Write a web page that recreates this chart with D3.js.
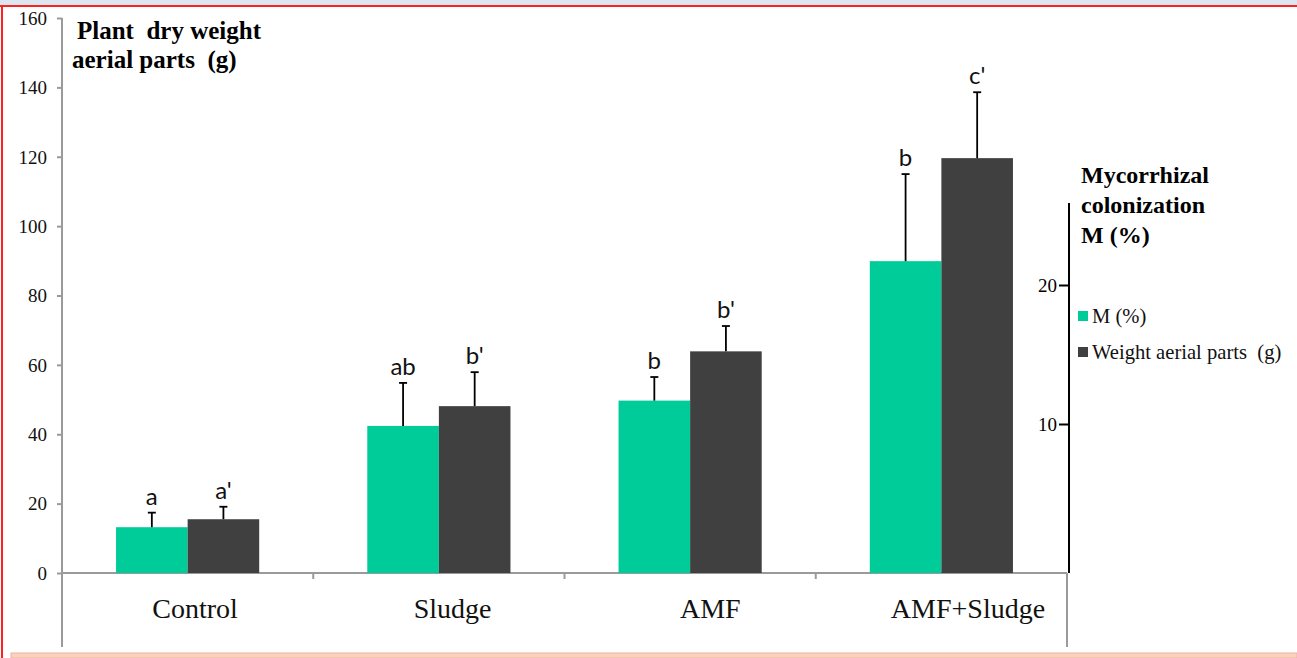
<!DOCTYPE html>
<html>
<head>
<meta charset="utf-8">
<script src="https://cdn.jsdelivr.net/npm/d3@7"></script>
<style>
  html, body { margin: 0; padding: 0; background: #fff; }
  svg { display: block; }
  text { white-space: pre; }
</style>
</head>
<body>
<svg id="chart" width="1297" height="658"></svg>
<script>
// ---- data ----
const categories = ["Control", "Sludge", "AMF", "AMF+Sludge"];
const seriesNames = ["M (%)", "Weight aerial parts  (g)"];
const mValues = [13.2, 42.4, 49.7, 89.9];
const mErrors = [4.2, 12.4, 6.8, 25.1];
const weightValues = [15.5, 48.1, 63.9, 119.6];
const weightErrors = [3.6, 9.8, 7.3, 19.0];
const mLetters = ["a", "ab", "b", "b"];
const weightLetters = ["a'", "b'", "b'", "c'"];
const leftTicks = [0, 20, 40, 60, 80, 100, 120, 140, 160];
const rightTicks = [10, 20];
const seriesColors = ["#00cc99", "#404040"];

const svg = d3.select("#chart");

// ---- frame ----
svg.append("rect").attr("x", 0).attr("y", 0).attr("width", 1297).attr("height", 5).attr("fill", "#dbe6f1");
svg.append("rect").attr("x", 0).attr("y", 5).attr("width", 1297).attr("height", 2).attr("fill", "#ff2020");
svg.append("rect").attr("x", 1).attr("y", 5).attr("width", 2).attr("height", 653).attr("fill", "#ff2020");
svg.append("rect").attr("x", 11).attr("y", 653).attr("width", 1286).attr("height", 5)
  .attr("fill", "#fbd3b8").attr("stroke", "#eeb0b0").attr("stroke-width", 1);

// ---- scales ----
const y = d3.scaleLinear().domain([0, 160]).range([573, 18]);
const x0 = d3.scaleBand().domain(categories).range([62, 1067]).paddingInner(0).paddingOuter(0);
const x1 = d3.scaleBand().domain(seriesNames).range([0, x0.bandwidth()]).paddingInner(0).paddingOuter(0.755);
const xLabel = d3.scalePoint().domain(categories).range([195, 968]);
const yRight = d3.scaleLinear().domain([0, 20]).range([563, 285]);

const gray = "#9a9a9a";
const serif = "'Liberation Serif', 'Times New Roman', serif";

// ---- left axis ----
const leftAxis = d3.axisLeft(y).tickValues(leftTicks).tickSize(5).tickPadding(10).tickSizeOuter(0);
const gl = svg.append("g").attr("transform", "translate(62,0)").call(leftAxis);
gl.select(".domain").remove();
gl.selectAll(".tick line").attr("stroke", gray).attr("stroke-width", 2);
gl.selectAll(".tick text").attr("font-family", serif).attr("font-size", 19).attr("fill", "#111").attr("dy", "0.33em");
svg.append("line").attr("x1", 62).attr("x2", 62).attr("y1", y(160)).attr("y2", 647)
  .attr("stroke", gray).attr("stroke-width", 2);

// ---- x axis ----
svg.append("line").attr("x1", 62).attr("x2", 1067).attr("y1", y(0)).attr("y2", y(0))
  .attr("stroke", gray).attr("stroke-width", 2);
svg.append("line").attr("x1", 1067).attr("x2", 1067).attr("y1", y(0)).attr("y2", 647)
  .attr("stroke", gray).attr("stroke-width", 2);
svg.selectAll(".cattick").data(categories.slice(1)).enter().append("line")
  .attr("x1", d => x0(d)).attr("x2", d => x0(d)).attr("y1", y(0)).attr("y2", y(0) + 6)
  .attr("stroke", gray).attr("stroke-width", 2);
svg.selectAll(".catlabel").data(categories).enter().append("text")
  .attr("x", d => xLabel(d)).attr("y", 618)
  .attr("text-anchor", "middle").attr("font-family", serif).attr("font-size", 28)
  .attr("fill", "#111").text(d => d);

// ---- bars ----
const rows = categories.map((c, i) => ({
  cat: c,
  items: [
    { s: seriesNames[0], v: mValues[i], e: mErrors[i], l: mLetters[i], c: seriesColors[0] },
    { s: seriesNames[1], v: weightValues[i], e: weightErrors[i], l: weightLetters[i], c: seriesColors[1] }
  ]
}));

const groups = svg.selectAll(".grp").data(rows).enter().append("g")
  .attr("transform", d => `translate(${x0(d.cat)},0)`);

groups.selectAll("rect").data(d => d.items).enter().append("rect")
  .attr("x", d => x1(d.s)).attr("width", x1.bandwidth())
  .attr("y", d => y(d.v)).attr("height", d => y(0) - y(d.v))
  .attr("fill", d => d.c);

groups.selectAll(".err").data(d => d.items).enter().append("line")
  .attr("x1", d => x1(d.s) + x1.bandwidth() / 2).attr("x2", d => x1(d.s) + x1.bandwidth() / 2)
  .attr("y1", d => y(d.v)).attr("y2", d => y(d.v + d.e))
  .attr("stroke", "#000").attr("stroke-width", 1.8);
groups.selectAll(".cap").data(d => d.items).enter().append("line")
  .attr("x1", d => x1(d.s) + x1.bandwidth() / 2 - 4).attr("x2", d => x1(d.s) + x1.bandwidth() / 2 + 4)
  .attr("y1", d => y(d.v + d.e)).attr("y2", d => y(d.v + d.e))
  .attr("stroke", "#000").attr("stroke-width", 1.8);
groups.selectAll(".letter").data(d => d.items).enter().append("text")
  .attr("x", d => x1(d.s) + x1.bandwidth() / 2).attr("y", d => y(d.v + d.e) - 8)
  .attr("text-anchor", "middle").attr("font-family", "Lato, 'Liberation Sans', sans-serif").attr("font-size", 24)
  .attr("fill", "#111").text(d => d.l);

// ---- right axis ----
svg.append("line").attr("x1", 1069).attr("x2", 1069).attr("y1", 203).attr("y2", 573)
  .attr("stroke", "#000").attr("stroke-width", 2);
const rightAxis = d3.axisLeft(yRight).tickValues(rightTicks).tickSize(10).tickPadding(2).tickSizeOuter(0);
const gr = svg.append("g").attr("transform", "translate(1069,0)").call(rightAxis);
gr.select(".domain").remove();
gr.selectAll(".tick line").attr("stroke", "#000").attr("stroke-width", 2);
gr.selectAll(".tick text").attr("font-family", serif).attr("font-size", 19).attr("fill", "#000").attr("dy", "0.33em");

// ---- titles ----
svg.append("text").attr("x", 77).attr("y", 39).attr("font-family", serif).attr("font-weight", "bold")
  .attr("font-size", 25).attr("fill", "#000").text("Plant  dry weight");
svg.append("text").attr("x", 72).attr("y", 68).attr("font-family", serif).attr("font-weight", "bold")
  .attr("font-size", 25).attr("fill", "#000").text("aerial parts  (g)");
["Mycorrhizal", "colonization", "M (%)"].forEach((t, i) => {
  svg.append("text").attr("x", 1081).attr("y", 183 + i * 30).attr("font-family", serif).attr("font-weight", "bold")
    .attr("font-size", 24).attr("fill", "#000").text(t);
});

// ---- legend ----
const legend = svg.selectAll(".leg").data(seriesNames).enter().append("g")
  .attr("transform", (d, i) => `translate(1078,${311 + i * 36})`);
legend.append("rect").attr("width", 10).attr("height", 10).attr("fill", (d, i) => seriesColors[i]);
legend.append("text").attr("x", 14).attr("y", 12).attr("font-family", serif).attr("font-size", 20.6)
  .attr("fill", "#111").text(d => d);
</script>
</body>
</html>
